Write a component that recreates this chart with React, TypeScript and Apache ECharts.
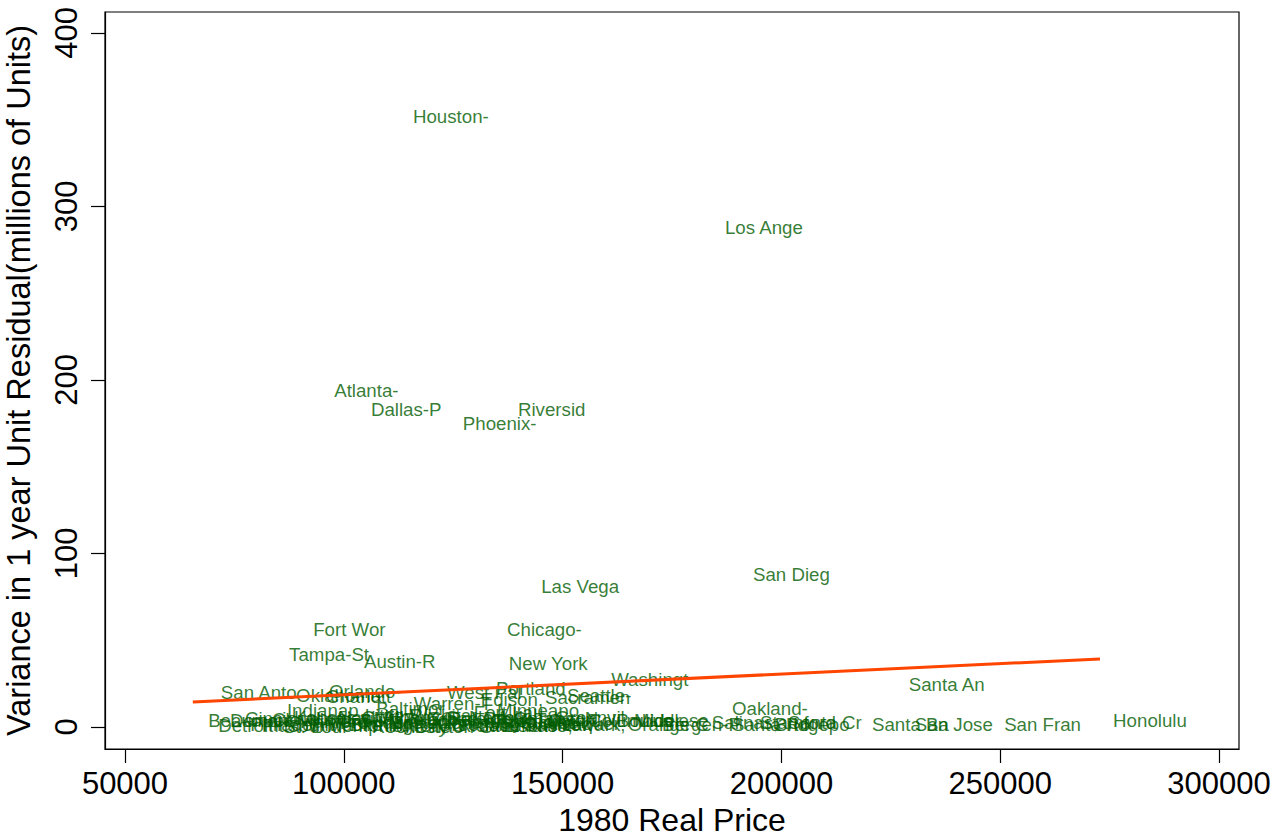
import React, { useEffect, useRef } from "react";
import * as echarts from "echarts";

const cityNames: string[] = [
  "Houston-", "Los Ange", "Atlanta-", "Dallas-P", "Riversid", "Phoenix-", "Las Vega", "San Dieg",
  "Fort Wor", "Chicago-", "Tampa-St", "Austin-R", "New York", "Washingt", "Santa An", "San Anto",
  "Orlando-", "Oklahoma", "Charlott", "Indianap", "Baltimor", "Warren-T", "West Pal", "Portland",
  "Edison, ", "Sacramen", "Seattle-", "Minneapo", "Fort Lau", "Columbus", "Boulder-", "Newark, ",
  "Orange C", "Middlese", "Bergen-P", "Salinas,", "Santa Ro", "Stamford", "Bridgepo", "Santa Cr",
  "Oakland-", "Santa Ba", "San Jose", "San Fran", "Honolulu", "Beaumont", "Detroit-",
  "Denver, ", "Cincinna", "Philadel", "Pittsbur", "Clevelan", "St. Loui", "Kansas C", "Hartford",
  "Milwauke", "Louisvil", "Memphis,", "Nashvill", "Providen", "Birmingh", "Buffalo-", "Little R",
  "Rocheste", "Albany-S", "Boston, ", "Akron, O", "Toledo, ", "Wichita,", "Dayton-S", "Grand Ra",
  "Allentow", "Greensbo", "Raleigh-", "Richmond", "Harrisbu", "Norfolk-", "Jacksonv", "Tulsa, O",
  "Syracuse", "El Paso,", "Omaha, N", "Knoxvill", "Salt Lak", "Tucson, ", "Albuquer", "Greenvil"
];

const cityPrice: number[] = [
  112600, 183900, 94600, 103000, 136600, 124000, 141900, 190300,
  89800, 134100, 84300, 101400, 134500, 157900, 225900, 68700,
  93400, 85900, 92700, 83800, 104200, 112800, 120400, 131600,
  128100, 142800, 147800, 131800, 126500, 152600, 159200, 145500,
  161700, 163100, 169500, 180900, 185500, 191900, 195300, 198300,
  185500, 217500, 227300, 247700, 272600, 65800, 68100,
  70800, 74200, 75400, 78100, 80400, 82900, 85400, 86800,
  87900, 90400, 92900, 95500, 95900, 98200, 100500, 101600,
  103200, 105700, 107400, 108000, 110500, 111900, 113000, 115600,
  116500, 118100, 120600, 122900, 123400, 125400, 127900, 130700,
  132500, 133200, 135500, 137100, 138000, 140500, 142800, 145100
];

const cityVariance: number[] = [
  352, 288, 193.7, 182.7, 182.7, 174.6, 80.7, 87.6,
  55.9, 55.9, 41.5, 37.5, 36.3, 27.1, 24.2, 19.6,
  20.2, 17.9, 17.3, 9.2, 10.4, 13.3, 19.6, 21.9,
  16.1, 16.7, 18.4, 9.2, 8.5, 4.0, 4.0, 1.2,
  1.2, 3.5, 1.7, 2.3, 1.7, 2.3, 1.7, 2.3,
  10.4, 1.7, 1.7, 1.2, 4.0, 3.5, 0.6,
  4.0, 5.0, 1.5, 1.0, 4.5, 0.5, 5.5, 3.0,
  1.5, 4.8, 0.8, 5.2, 2.6, 1.2, 4.0, 6.5,
  0.5, 5.5, 2.8, 1.0, 4.3, 6.8, 0.3, 5.0,
  2.5, 1.5, 4.6, 0.8, 3.0, 5.3, 1.0, 4.0,
  2.8, 0.6, 5.0, 3.2, 1.4, 4.4, 2.0, 5.6
];

const fitLineX: number[] = [65500, 272800];
const fitLineY: number[] = [14.4, 39.2];

const xTicks: number[] = [50000, 100000, 150000, 200000, 250000, 300000];
const yTicks: number[] = [0, 100, 200, 300, 400];

const FONT = "'Liberation Sans', Arial, Helvetica, sans-serif";

export default function App() {
  const ref = useRef<HTMLDivElement>(null);
  useEffect(() => {
    if (!ref.current) return;
    const chart = echarts.init(ref.current, null, { renderer: "svg" });
    const points = cityNames.map((n, i) => ({ name: n, value: [cityPrice[i], cityVariance[i]] }));
    chart.setOption({
      animation: false,
      backgroundColor: "#ffffff",
      grid: {
        left: 105,
        top: 12,
        right: 42,
        bottom: 88,
        outerBoundsMode: "none",
        containLabel: false,
        show: true,
        borderColor: "#000000",
        borderWidth: 1.2,
        backgroundColor: "#ffffff",
      },
      xAxis: {
        type: "value",
        min: 45430,
        max: 304570,
        name: "1980 Real Price",
        nameLocation: "middle",
        nameGap: 47,
        nameTextStyle: { fontFamily: FONT, fontSize: 32, color: "#000" },
        splitLine: { show: false },
        axisLine: { show: true, onZero: false, lineStyle: { color: "#000", width: 1.2 } },
        axisTick: { show: true, length: 14, customValues: xTicks, lineStyle: { color: "#000", width: 1.2 } },
        axisLabel: {
          customValues: xTicks,
          formatter: (v: number) => String(v),
          fontFamily: FONT,
          fontSize: 31,
          color: "#000",
          margin: 19,
        },
      },
      yAxis: {
        type: "value",
        min: -12.7,
        max: 412,
        name: "Variance in 1 year Unit Residual(millions of Units)",
        nameLocation: "middle",
        nameGap: 70,
        nameTextStyle: { fontFamily: FONT, fontSize: 32.5, color: "#000" },
        splitLine: { show: false },
        axisLine: { show: true, onZero: false, lineStyle: { color: "#000", width: 1.2 } },
        axisTick: { show: true, length: 14, customValues: yTicks, lineStyle: { color: "#000", width: 1.2 } },
        axisLabel: {
          customValues: yTicks,
          formatter: (v: number) => String(v),
          rotate: 90,
          fontFamily: FONT,
          fontSize: 31,
          color: "#000",
          margin: 23,
        },
      },
      series: [
        {
          type: "scatter",
          data: points,
          symbolSize: 1,
          itemStyle: { color: "rgba(0,0,0,0)" },
          label: {
            show: true,
            position: "right",
            distance: 13.5,
            formatter: "{b}",
            fontFamily: FONT,
            fontSize: 18.7,
            color: "#005c00",
          },
          labelLayout: { hideOverlap: false },
          z: 3,
        },
        {
          type: "line",
          data: fitLineX.map((x, i) => [x, fitLineY[i]]),
          symbol: "none",
          lineStyle: { color: "#ff4500", width: 3 },
          z: 4,
        },
      ],
    });
    return () => chart.dispose();
  }, []);
  return (
    <div
      ref={ref}
      style={{ position: "fixed", left: 0, top: 0, width: 1281, height: 837, background: "#fff" }}
    />
  );
}
